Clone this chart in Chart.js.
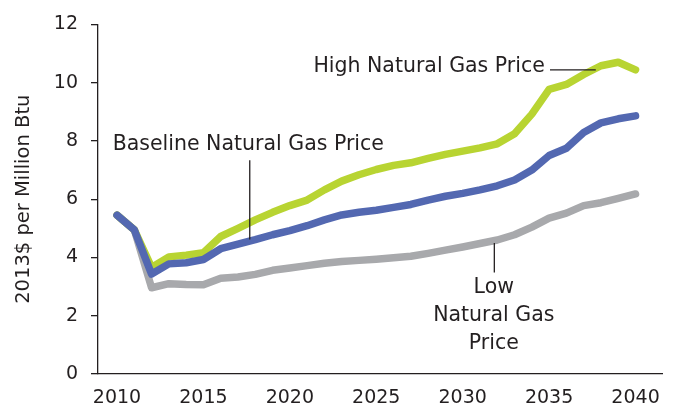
<!DOCTYPE html>
<html>
<head>
<meta charset="utf-8">
<script src="https://cdn.jsdelivr.net/npm/chart.js@4"></script>
<style>
html,body{margin:0;padding:0;background:#fff;}
#wrap{width:673px;height:409px;position:relative;}
</style>
</head>
<body>
<div id="wrap"><canvas id="c" width="673" height="409"></canvas></div>
<script>
const years = [2010,2011,2012,2013,2014,2015,2016,2017,2018,2019,2020,2021,2022,2023,2024,2025,2026,2027,2028,2029,2030,2031,2032,2033,2034,2035,2036,2037,2038,2039,2040];
const baseline = [5.45,4.95,3.43,3.78,3.82,3.93,4.30,4.46,4.61,4.78,4.92,5.09,5.29,5.46,5.55,5.62,5.72,5.82,5.97,6.10,6.20,6.32,6.46,6.66,7.00,7.50,7.75,8.29,8.62,8.76,8.86];
const high = [5.45,4.95,3.66,4.02,4.08,4.16,4.72,5.00,5.29,5.55,5.78,5.97,6.32,6.62,6.84,7.02,7.16,7.25,7.40,7.54,7.65,7.76,7.90,8.25,8.92,9.77,9.94,10.28,10.58,10.70,10.44];
const low = [5.45,4.95,2.96,3.10,3.07,3.06,3.29,3.33,3.42,3.56,3.64,3.72,3.80,3.86,3.90,3.94,3.99,4.04,4.14,4.25,4.36,4.48,4.60,4.78,5.04,5.35,5.52,5.78,5.88,6.03,6.18];
const xTicks = [2010,2015,2020,2025,2030,2035,2040];
const yTicks = [0,2,4,6,8,10,12];

const FONT = "DejaVu Sans";
const TXT = "#231f20";

const toPts = arr => arr.map((v,i)=>({x:years[i], y:v}));

const annot = {
  id:'annot',
  afterDatasetsDraw(chart){
    const {ctx, scales:{x,y}} = chart;
    ctx.save();
    ctx.fillStyle = TXT;
    ctx.strokeStyle = TXT;
    ctx.lineWidth = 1.3;
    ctx.font = "20.5px " + FONT;
    ctx.textBaseline = 'middle';
    // High
    ctx.textAlign = 'right';
    ctx.fillText('High Natural Gas Price', x.getPixelForValue(2034.75), y.getPixelForValue(10.55));
    ctx.beginPath();
    ctx.moveTo(x.getPixelForValue(2035.05), y.getPixelForValue(10.44));
    ctx.lineTo(x.getPixelForValue(2037.7), y.getPixelForValue(10.44));
    ctx.stroke();
    // Baseline
    ctx.textAlign = 'left';
    ctx.fillText('Baseline Natural Gas Price', x.getPixelForValue(2009.75), y.getPixelForValue(7.87));
    ctx.beginPath();
    ctx.moveTo(x.getPixelForValue(2017.68), y.getPixelForValue(7.34));
    ctx.lineTo(x.getPixelForValue(2017.68), y.getPixelForValue(4.62));
    ctx.stroke();
    // Low
    ctx.textAlign = 'center';
    const cx = x.getPixelForValue(2031.8);
    ctx.fillText('Low', cx, y.getPixelForValue(2.96));
    ctx.fillText('Natural Gas', cx, y.getPixelForValue(2.0));
    ctx.fillText('Price', cx, y.getPixelForValue(1.05));
    ctx.beginPath();
    ctx.moveTo(x.getPixelForValue(2031.83), y.getPixelForValue(4.5));
    ctx.lineTo(x.getPixelForValue(2031.83), y.getPixelForValue(3.48));
    ctx.stroke();
    ctx.restore();
  }
};

const lineStyle = {borderWidth:7.5, pointRadius:0, borderCapStyle:'round', borderJoinStyle:'round', tension:0, fill:false};

new Chart(document.getElementById('c'), {
  type:'line',
  data:{
    datasets:[
      Object.assign({label:'Baseline Natural Gas Price', data:toPts(baseline), borderColor:'#5368b1', order:0}, lineStyle),
      Object.assign({label:'High Natural Gas Price', data:toPts(high), borderColor:'#b8d432', order:1}, lineStyle),
      Object.assign({label:'Low Natural Gas Price', data:toPts(low), borderColor:'#a8a9ac', order:2}, lineStyle)
    ]
  },
  options:{
    responsive:false,
    animation:false,
    events:[],
    layout:{padding:{top:21, right:6, left:0, bottom:0}},
    plugins:{legend:{display:false}, tooltip:{enabled:false}},
    scales:{
      x:{
        type:'linear', min:2008.9, max:2041.55,
        afterBuildTicks(s){ s.ticks = xTicks.map(v=>({value:v})); },
        afterFit(s){ s.height = 35; },
        grid:{display:false, drawTicks:false},
        border:{display:true, color:TXT, width:1.3},
        ticks:{color:TXT, font:{family:FONT, size:19}, padding:13, maxRotation:0, autoSkip:false, callback:v=>String(v)}
      },
      y:{
        min:0, max:12,
        afterBuildTicks(s){ s.ticks = yTicks.map(v=>({value:v})); },
        afterFit(s){ s.width = 98; },
        grid:{display:true, drawOnChartArea:false, drawTicks:true, tickLength:7, color:TXT, lineWidth:1.3},
        border:{display:true, color:TXT, width:1.3},
        ticks:{color:TXT, font:{family:FONT, size:19}, padding:13},
        title:{display:true, text:'2013$ per Million Btu', color:TXT, font:{family:FONT, size:19.5}, padding:{top:12, bottom:0}}
      }
    }
  },
  plugins:[annot]
});
</script>
</body>
</html>
